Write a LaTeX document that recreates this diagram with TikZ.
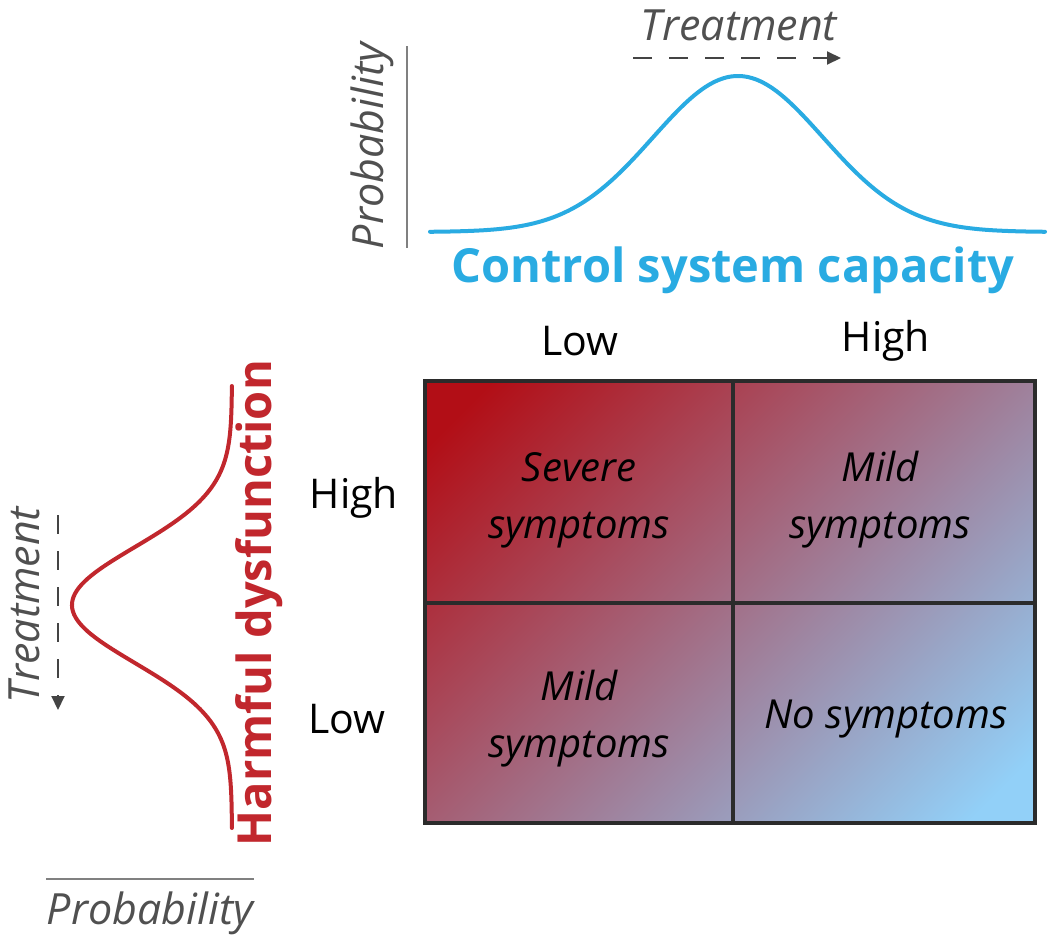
\documentclass[tikz,border=0pt]{standalone}
\usepackage{fontspec}
\setmainfont{Open Sans}
\usetikzlibrary{arrows.meta}
\definecolor{cblue}{HTML}{29ABE2}
\definecolor{cred}{HTML}{C1272D}
\definecolor{cgray}{HTML}{505050}
\definecolor{cline}{HTML}{2B2B2B}
\definecolor{gtl}{RGB}{178,14,22}
\definecolor{gbr}{RGB}{146,208,248}
\pgfdeclarehorizontalshading{gridshade}{100bp}{color(0bp)=(gtl); color(19bp)=(gtl); color(81bp)=(gbr); color(100bp)=(gbr)}
\begin{document}
\begin{tikzpicture}[x=1pt,y=-1pt,
  axlab/.style={font=\fontsize{41}{46}\selectfont, text=black, inner sep=0pt},
  cell/.style={font=\fontsize{40}{57}\selectfont\itshape, align=center, text=black, inner sep=0pt},
  glab/.style={font=\fontsize{43}{48}\selectfont\itshape, text=cgray, inner sep=0pt},
  title/.style={font=\fontsize{47}{52}\selectfont\bfseries, inner sep=0pt},
  darrow/.style={draw=cgray!85!black, line width=2pt, dash pattern=on 19pt off 17pt, -{Triangle[length=14pt,width=13pt]}},
  gridline/.style={draw=cline, line width=4pt},
  axis/.style={draw=gray, line width=1.5pt},
  curve/.style={line width=4pt, line cap=round}
]
\useasboundingbox (0,0) rectangle (1050,938);

% ---- grid ----
\shade[shading=gridshade, shading angle=-45] (425,381) rectangle (1035,823);
\draw[gridline] (425,381) rectangle (1035,823);
\draw[gridline] (733,381) -- (733,823);
\draw[gridline] (425,603) -- (1035,603);

\node[cell] (sev) at (579,500) {Severe\\symptoms};
\node[cell] (mildA) at (880,500) {Mild\\symptoms};
\node[cell] (mildB) at (579,719) {Mild\\symptoms};
\node[cell] (none) at (886,719) {No symptoms};

\node[axlab] (clow) at (580,341) {Low};
\node[axlab] (chigh) at (886,341) {High};
\node[axlab] (hhigh) at (354,498) {High};
\node[axlab] (hlow) at (347,719) {Low};

% ---- top distribution ----
\draw[axis] (407,46) -- (407,248);
\node[glab, rotate=90] (probT) at (372,146) {Probability};
\draw[cblue, curve] plot[domain=430:1045, samples=150, smooth] (\x, {232-156*exp(-((\x-738)/85)^2/2)});
\node[title, text=cblue] (csc) at (733,270) {Control system capacity};
\node[glab] (treatT) at (739,25) {Treatment};
\coordinate (ta1) at (633,58);
\coordinate (ta2) at (841,58);
\draw[darrow] (ta1) -- (ta2);

% ---- left distribution ----
\draw[cred, curve] plot[domain=386:828, samples=150, smooth] ({232-160*exp(-((\x-605)/58)^2/2)}, \x);
\node[title, text=cred, rotate=90] (hd) at (259,603) {Harmful dysfunction};
\node[glab, rotate=90] (treatL) at (24,605) {Treatment};
\coordinate (tb1) at (58,515);
\coordinate (tb2) at (58,710);
\draw[darrow] (tb1) -- (tb2);
\draw[axis] (46,879) -- (254,879);
\node[glab] (probL) at (150,913) {Probability};
\end{tikzpicture}
\end{document}
